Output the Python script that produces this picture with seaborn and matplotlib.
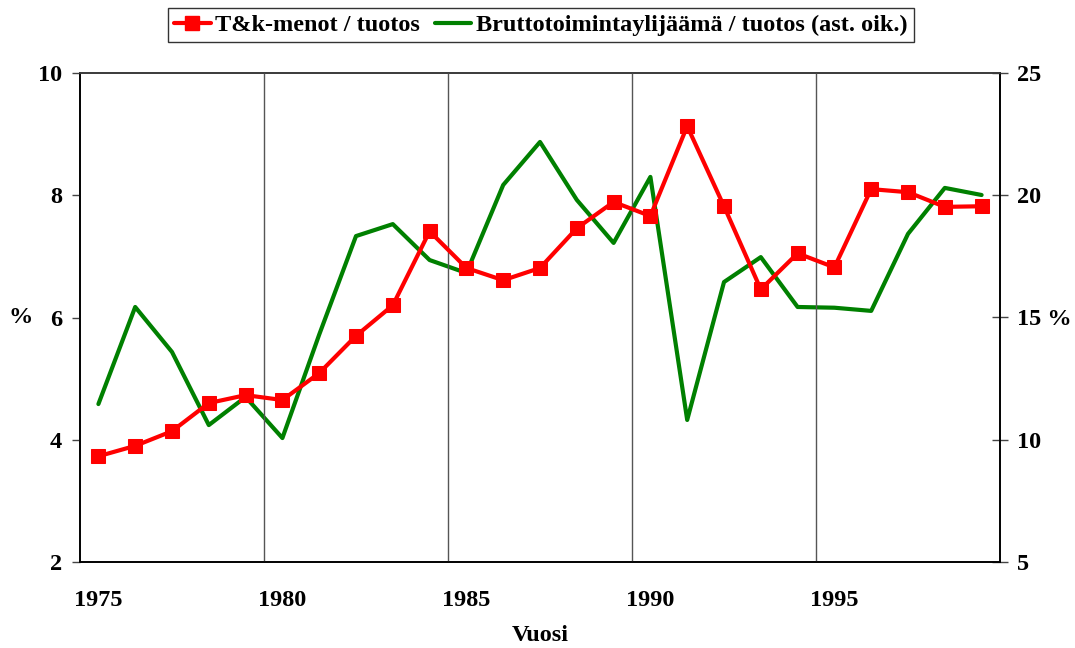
import numpy as np
import pandas as pd
import seaborn as sns
import matplotlib.pyplot as plt
from matplotlib.ticker import FixedLocator, NullFormatter
from matplotlib.lines import Line2D

# vuodet ja sarjat (luettu kuvasta)
years = list(range(1975, 2000))
rd_share = [3.73, 3.90, 4.14, 4.60, 4.73, 4.65, 5.09, 5.70, 6.20, 7.41,
            6.81, 6.61, 6.81, 7.46, 7.89, 7.66, 9.13, 7.82, 6.46, 7.05,
            6.82, 8.10, 8.05, 7.81, 7.82]
gos_share = [11.46, 15.43, 13.59, 10.60, 11.75, 10.07, 14.3, 18.33, 18.82, 17.35,
             16.82, 20.42, 22.18, 19.81, 18.05, 20.75, 10.81, 16.45, 17.47, 15.43,
             15.40, 15.27, 18.42, 20.30, 20.01]
label_years = [1975, 1980, 1985, 1990, 1995]
left_ticks = [2, 4, 6, 8, 10]
right_ticks = [5, 10, 15, 20, 25]
right_labels = ['5', '10', '15 %', '20', '25']

df = pd.DataFrame({'vuosi': years, 'tk': rd_share, 'bt': gos_share})

sns.set_style('white')
plt.rcParams['font.family'] = ['Liberation Serif', 'DejaVu Serif']
plt.rcParams['font.weight'] = 'bold'
plt.rcParams['text.color'] = 'black'
plt.rcParams['axes.labelcolor'] = 'black'
plt.rcParams['xtick.color'] = 'black'
plt.rcParams['ytick.color'] = 'black'

FS = 17.5

fig = plt.figure(figsize=(10.75, 6.48), dpi=100)
ax = fig.add_axes([80 / 1075, 1 - 562 / 648, 920 / 1075, 489 / 648])
ax2 = ax.twinx()

sns.lineplot(data=df, x='vuosi', y='bt', ax=ax2, color='#008000', linewidth=3.0, zorder=2)
sns.lineplot(data=df, x='vuosi', y='tk', ax=ax, color='#ff0000', linewidth=3.0,
             marker='s', markersize=10, markeredgecolor='#ff0000', zorder=3)
# punainen viiva vihreän päälle
ax.set_zorder(ax2.get_zorder() + 1)
ax.patch.set_visible(False)

ax.set_xlim(years[0] - 0.5, years[-1] + 0.5)
ax.set_ylim(2, 10)
ax2.set_ylim(5, 25)

# kategoria-akseli: rajat pääviivoina, nimiöt keskellä
bounds = [y - 0.5 for y in label_years] + [years[-1] + 0.5]
ax.xaxis.set_major_locator(FixedLocator(bounds))
ax.xaxis.set_major_formatter(NullFormatter())
ax.set_xticks(label_years, [str(y) for y in label_years], minor=True)
ax.tick_params(axis='x', which='major', direction='inout', length=11, width=1, color='black')
ax.tick_params(axis='x', which='minor', length=0, pad=20, labelsize=FS, labelcolor='black')
for b in bounds[1:-1]:
    ax.axvline(b, color='#555555', linewidth=1, zorder=0)

ax.set_yticks(left_ticks)
ax.tick_params(axis='y', direction='out', length=6, width=1, color='#444444', pad=7,
               labelsize=FS, labelcolor='black', left=True)
ax2.set_yticks(right_ticks, right_labels)
ax2.tick_params(axis='y', direction='inout', length=11, width=1, color='#444444', pad=7,
                labelsize=FS, labelcolor='black', right=True)

for a in (ax, ax2):
    for s in a.spines.values():
        s.set_color('black')
        s.set_linewidth(1.2)
ax.spines['top'].set_color('#444444')

ax.set_xlabel('Vuosi', fontsize=FS, fontweight='bold', labelpad=10, color='black')
ax.set_ylabel('%', fontsize=FS, fontweight='bold', rotation=0, va='center', ha='center', color='black')
ax.yaxis.set_label_coords(-0.065, 0.5)
ax2.set_ylabel('')

handles = [Line2D([], [], color='#ff0000', linewidth=3.0, marker='s', markersize=10),
           Line2D([], [], color='#008000', linewidth=3.0)]
leg = fig.legend(handles, ['T&k-menot / tuotos', 'Bruttotoimintaylijäämä / tuotos (ast. oik.)'],
                 loc='center', bbox_to_anchor=(541 / 1075, 1 - 25 / 648), ncol=2,
                 frameon=True, fancybox=False, edgecolor='black', fontsize=FS,
                 handlelength=1.5, handletextpad=0.2, columnspacing=0.6,
                 borderpad=0.25, markerscale=1.0)
leg.get_frame().set_linewidth(1.0)
for t in leg.get_texts():
    t.set_fontweight('bold')
    t.set_color('black')

fig.savefig('out.png', dpi=100)
